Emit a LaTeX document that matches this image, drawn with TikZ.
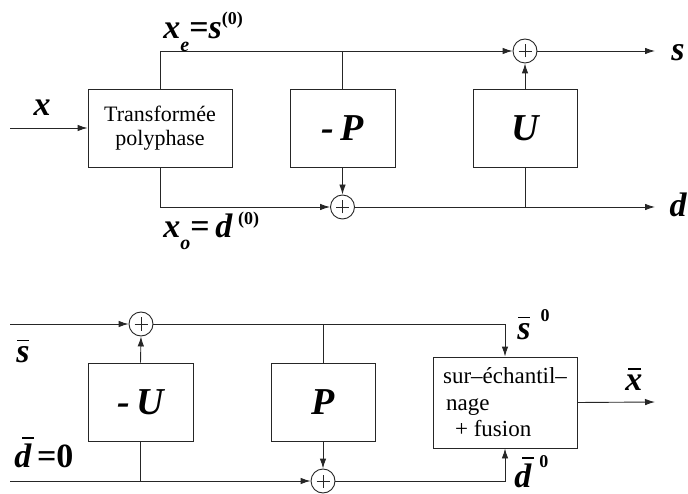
\documentclass[tikz,border=0pt]{standalone}
\usepackage{fontspec}
\setmainfont{Liberation Serif}
\usetikzlibrary{arrows.meta}
\newcommand\smallbf[1]{{\fontsize{18}{18}\selectfont\bfseries\upshape #1}}
\newcommand\smallbi[1]{{\fontsize{20}{20}\selectfont\bfseries\itshape #1}}
% bar over a letter: #1 shift right, #2 bar width, #3 letter
\newcommand\ovl[3]{\setbox0=\hbox{\bfseries\itshape #3}\rlap{\hspace*{#1}\raisebox{\dimexpr\ht0+4.5pt\relax}{\rule{#2}{1.6pt}}}\box0}
\begin{document}
\begin{tikzpicture}[x=1pt,y=-1pt,
  line width=0.9pt,
  arr/.style={-{Latex[length=10pt,width=6.5pt]}},
  blk/.style={draw=black!85, line width=0.9pt, minimum height=78pt, inner sep=0pt},
  sum/.style={circle, draw=black!85, line width=0.9pt, minimum size=24pt, inner sep=0pt,
    path picture={
      \draw[line width=0.8pt] ([xshift=-6.5pt]path picture bounding box.center) -- ([xshift=6.5pt]path picture bounding box.center);
      \draw[line width=0.8pt] ([yshift=-6.5pt]path picture bounding box.center) -- ([yshift=6.5pt]path picture bounding box.center);
    }},
  txt/.style={font=\fontsize{22}{24}\selectfont, align=center},
  big/.style={font=\fontsize{38}{40}\selectfont\bfseries\itshape, inner sep=0pt},
  lab/.style={font=\fontsize{34}{36}\selectfont\bfseries\itshape, inner sep=0pt}
]
\useasboundingbox (0,0) rectangle (688,494);

% ---------- top diagram ----------
\node[blk, minimum width=144pt, txt] (T) at (160,128) {Transformée\\polyphase};
\node[blk, minimum width=105pt, big] (Pm) at (342.5,128) {-\,P};
\node[blk, minimum width=104pt, big] (U) at (525,128) {U};
\node[sum] (a1) at (525,51) {};
\node[sum] (a2) at (342.5,207) {};
\coordinate (xin) at (10,128);
\coordinate (sout) at (655,51);
\coordinate (dout) at (655,207);

\begin{scope}[draw=black!85]
\draw[arr] (xin) -- (T.west);
\draw[arr] (T.north) |- (a1.west);
\draw (Pm.north) -- (Pm.north |- a1);
\draw[arr] (U.north) -- (a1.south);
\draw[arr] (a1.east) -- (sout);
\draw[arr] (T.south) |- (a2.west);
\draw[arr] (Pm.south) -- (a2.north);
\draw[arr] (a2.east) -- (dout);
\draw (U.south) -- (U.south |- dout);
\end{scope}

\node[lab] (lx) at (42,108) {x};
\node[lab, anchor=base west] (lxe) at (163,39) {x\raisebox{-13pt}{\smallbi{e}}{\bfseries\upshape =}s\raisebox{14pt}{\smallbf{(0)}}};
\node[lab, anchor=base west] (lxo) at (163,238) {x\raisebox{-12pt}{\smallbi{o}}{\bfseries\upshape =\,}d\,\raisebox{13pt}{\smallbf{(0)}}};
\node[lab] (ls) at (678,53) {s};
\node[lab] (ld) at (678,205) {d};

% ---------- bottom diagram ----------
\node[blk, minimum width=105pt, big] (Um) at (140.5,402) {-\,U};
\node[blk, minimum width=104pt, big] (P) at (323,402) {P};
\node[draw=black!85, line width=0.9pt, minimum width=144pt, minimum height=91pt, inner sep=0pt,
      font=\fontsize{23}{26.5}\selectfont, align=left] (F) at (505,402.5)
      {sur–échantil–\\\hspace*{3pt}nage\\\hspace*{12pt}+ fusion};
\node[sum] (b1) at (141,324) {};
\node[sum] (b2) at (323,481) {};
\coordinate (sin) at (10,324);
\coordinate (din) at (10,481);
\coordinate (xout) at (655,402);

\begin{scope}[draw=black!85]
\draw[arr] (sin) -- (b1.west);
\draw[arr] (Um.north) -- (b1.south);
\draw (Um.south) -- (Um.south |- din);
\draw[arr] (b1.east) -| (F.north);
\draw (P.north) -- (P.north |- b1);
\draw[arr] (P.south) -- (b2.north);
\draw[arr] (din) -- (b2.west);
\draw[arr] (b2.east) -| (F.south);
\draw[arr] (F.east) -- (xout);
\end{scope}

\node[lab, anchor=base west] (lsb) at (16,362) {\ovl{1pt}{12pt}{s}};
\node[lab, anchor=base west] (ldb) at (14,467) {\ovl{8pt}{12pt}{d}{\bfseries\upshape\,=0}};
\node[lab, anchor=base west] (ls0) at (517,339) {\ovl{1pt}{12pt}{s}\hspace{10pt}\raisebox{18pt}{\smallbf{0}}};
\node[lab, anchor=base west] (ld0) at (514,487) {\ovl{8pt}{12pt}{d}\hspace{8pt}\raisebox{20pt}{\smallbf{0}}};
\node[lab, anchor=base west] (lxb) at (625,390) {\ovl{3pt}{13pt}{x}};
\end{tikzpicture}
\end{document}
